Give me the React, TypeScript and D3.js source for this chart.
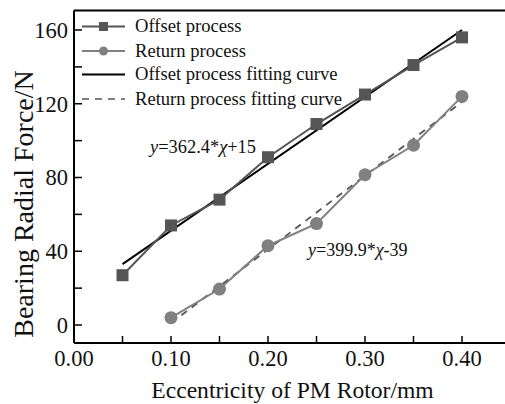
import React, { useEffect, useRef } from "react";
import * as d3 from "d3";

const xValues = [0.05, 0.1, 0.15, 0.2, 0.25, 0.3, 0.35, 0.4];
const offsetValues = [27, 54, 68, 91, 109, 125, 141, 156];
const returnX = [0.1, 0.15, 0.2, 0.25, 0.3, 0.35, 0.4];
const returnValues = [4, 19.5, 43, 55, 81.5, 97.5, 124];
const offsetFitX = [0.05, 0.4];
const offsetFitValues = [33, 160];
const returnFitX = [0.1, 0.4];
const returnFitValues = [1, 121];
const xTicks = [0, 0.1, 0.2, 0.3, 0.4];
const xMinorTicks = [0.05, 0.15, 0.25, 0.35];
const yTicks = [0, 40, 80, 120, 160];
const yMinorTicks = [20, 60, 100, 140];
const legendLabels = [
  "Offset process",
  "Return process",
  "Offset process fitting curve",
  "Return process fitting curve",
];

const W = 505;
const H = 404;
const FONT = "'Liberation Serif', 'Times New Roman', serif";
const C_OFF = "#555555";
const C_RET = "#808080";

export default function App() {
  const ref = useRef<SVGSVGElement>(null);
  useEffect(() => {
    const svg = d3.select(ref.current);
    svg.selectAll("*").remove();
    const left = 74, top = 10.5, bottom = 343;
    const x = d3.scaleLinear().domain([0, 0.1]).range([74, 171]);
    const y = d3.scaleLinear().domain([0, 160]).range([325, 30]);

    svg.append("rect").attr("width", W).attr("height", H).attr("fill", "#fff");

    // axes box
    svg.append("line").attr("x1", left).attr("x2", left).attr("y1", top).attr("y2", bottom).attr("stroke", "#000").attr("stroke-width", 2);
    svg.append("line").attr("x1", left).attr("x2", W).attr("y1", bottom).attr("y2", bottom).attr("stroke", "#000").attr("stroke-width", 2);
    svg.append("line").attr("x1", left).attr("x2", W).attr("y1", top).attr("y2", top).attr("stroke", "#000").attr("stroke-width", 2);

    // y ticks
    [...yTicks, ...yMinorTicks].forEach((t) => {
      svg.append("line").attr("x1", left).attr("x2", left + 8).attr("y1", y(t)).attr("y2", y(t)).attr("stroke", "#000").attr("stroke-width", 1.5);
    });
    yTicks.forEach((t) => {
      svg.append("text").attr("x", 68).attr("y", y(t)).attr("dy", "0.35em").attr("text-anchor", "end")
        .attr("font-family", FONT).attr("font-size", 22.5).attr("fill", "#111").text(String(t));
    });
    // x ticks
    [...xTicks, ...xMinorTicks].forEach((t) => {
      if (t === 0) return;
      svg.append("line").attr("x1", x(t)).attr("x2", x(t)).attr("y1", bottom).attr("y2", bottom - 7).attr("stroke", "#000").attr("stroke-width", 1.5);
    });
    xTicks.forEach((t) => {
      svg.append("text").attr("x", x(t)).attr("y", 366).attr("text-anchor", "middle")
        .attr("font-family", FONT).attr("font-size", 22.5).attr("fill", "#111").text(t.toFixed(2));
    });

    // titles
    svg.append("text").attr("x", 292.5).attr("y", 398).attr("text-anchor", "middle")
      .attr("font-family", FONT).attr("font-size", 23.6).attr("fill", "#111").text("Eccentricity of PM Rotor/mm");
    svg.append("text").attr("transform", "translate(33,204) rotate(-90)").attr("text-anchor", "middle")
      .attr("font-family", FONT).attr("font-size", 28).attr("fill", "#111").text("Bearing Radial Force/N");

    const line = d3.line<[number, number]>().x((d) => x(d[0])).y((d) => y(d[1]));

    // fit lines
    svg.append("path").attr("d", line(offsetFitX.map((v, i) => [v, offsetFitValues[i]]) as any))
      .attr("stroke", "#000").attr("stroke-width", 2).attr("fill", "none");
    svg.append("path").attr("d", line(returnFitX.map((v, i) => [v, returnFitValues[i]]) as any))
      .attr("stroke", "#555").attr("stroke-width", 1.8).attr("stroke-dasharray", "7,6").attr("fill", "none");

    // data lines
    const offData = xValues.map((v, i) => [v, offsetValues[i]] as [number, number]);
    const retData = returnX.map((v, i) => [v, returnValues[i]] as [number, number]);
    svg.append("path").attr("d", line(offData)).attr("stroke", C_OFF).attr("stroke-width", 2).attr("fill", "none");
    svg.append("path").attr("d", line(retData)).attr("stroke", C_RET).attr("stroke-width", 2).attr("fill", "none");

    svg.selectAll(".sq").data(offData).enter().append("rect")
      .attr("x", (d) => x(d[0]) - 6).attr("y", (d) => y(d[1]) - 6).attr("width", 12).attr("height", 12).attr("fill", C_OFF);
    svg.selectAll(".ci").data(retData).enter().append("circle")
      .attr("cx", (d) => x(d[0])).attr("cy", (d) => y(d[1])).attr("r", 6.5).attr("fill", C_RET);

    // annotations
    const ann1 = svg.append("text").attr("x", 150).attr("y", 153).attr("font-family", FONT).attr("font-size", 18.4).attr("fill", "#111");
    ann1.append("tspan").attr("font-style", "italic").text("y");
    ann1.append("tspan").text("=362.4*");
    ann1.append("tspan").attr("font-style", "italic").text("χ");
    ann1.append("tspan").text("+15");
    const ann2 = svg.append("text").attr("x", 308).attr("y", 256).attr("font-family", FONT).attr("font-size", 18).attr("fill", "#111");
    ann2.append("tspan").attr("font-style", "italic").text("y");
    ann2.append("tspan").text("=399.9*");
    ann2.append("tspan").attr("font-style", "italic").text("χ");
    ann2.append("tspan").text("-39");

    // legend
    const rows = [26.5, 51, 74.5, 99];
    const lx1 = 82, lx2 = 125, tx = 135;
    legendLabels.forEach((lab, i) => {
      const ry = rows[i];
      const l = svg.append("line").attr("x1", lx1).attr("x2", lx2).attr("y1", ry).attr("y2", ry);
      if (i === 0) l.attr("stroke", C_OFF).attr("stroke-width", 2);
      if (i === 1) l.attr("stroke", C_RET).attr("stroke-width", 2);
      if (i === 2) l.attr("stroke", "#000").attr("stroke-width", 2);
      if (i === 3) l.attr("stroke", "#555").attr("stroke-width", 1.5).attr("stroke-dasharray", "7,6");
      if (i === 0) svg.append("rect").attr("x", (lx1 + lx2) / 2 - 4.5).attr("y", ry - 4.5).attr("width", 9).attr("height", 9).attr("fill", C_OFF);
      if (i === 1) svg.append("circle").attr("cx", (lx1 + lx2) / 2).attr("cy", ry).attr("r", 4.5).attr("fill", C_RET);
      svg.append("text").attr("x", tx).attr("y", ry).attr("dy", "0.32em").attr("font-family", FONT)
        .attr("font-size", 18.6).attr("fill", "#111").text(lab);
    });
  }, []);
  return (
    <svg ref={ref} width={W} height={H} style={{ position: "absolute", left: 0, top: 0 }} />
  );
}
